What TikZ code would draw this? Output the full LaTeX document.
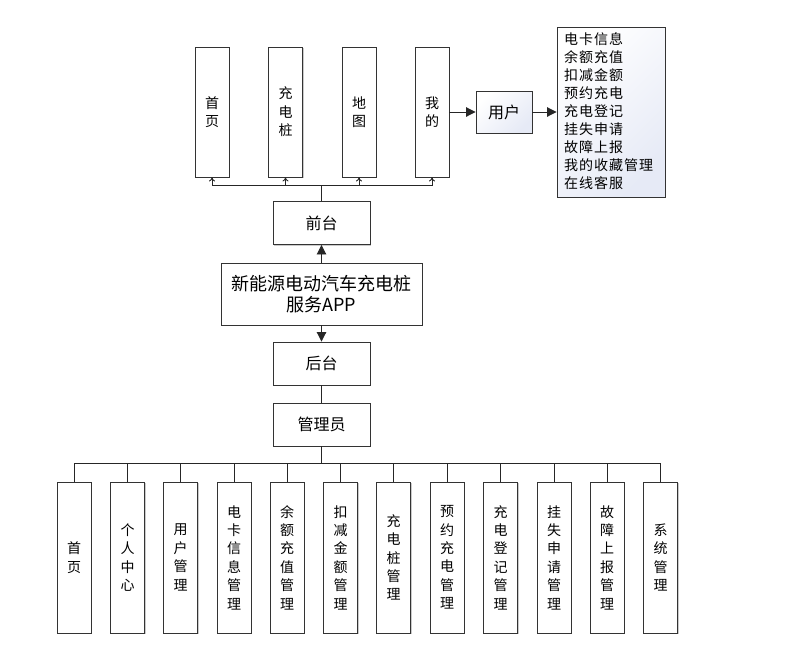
\documentclass[tikz,border=0pt]{standalone}
\usepackage{fontspec}
\setmainfont{Noto Sans CJK SC}
\newfontfamily\listfont[LetterSpace=7]{Noto Sans CJK SC}
\usetikzlibrary{arrows.meta,shadows}
\definecolor{lb}{RGB}{230,234,246}
\begin{document}
\begin{tikzpicture}[x=1pt,y=-1pt,
 box/.style={draw=black!80, line width=0.9pt, fill=white, inner sep=0pt, align=center,
   drop shadow={shadow xshift=1.3pt,shadow yshift=-1.3pt,fill=black!35,opacity=0.6}},
 grad/.style={top color=white, bottom color=lb, shading angle=45},
 vbox/.style={box, minimum width=34pt, minimum height=130pt, font=\fontsize{14}{18.5}\selectfont},
 bbox/.style={box, minimum width=34pt, minimum height=151pt, font=\fontsize{14}{18.4}\selectfont},
 hbox/.style={box, minimum width=97pt, minimum height=43pt, font=\fontsize{16}{20}\selectfont},
 conn/.style={line width=0.9pt, draw=black!85},
 big/.style={-{Triangle[length=9.5pt,width=9.5pt]}},
 small/.style={-{To[length=4pt,width=6pt]}}
]
\useasboundingbox (0,0) rectangle (803,646);
% top
\node[vbox] (t1) at (212,112) {首\\页};
\node[vbox] (t2) at (285.5,112) {充\\电\\桩};
\node[vbox] (t3) at (359,112) {地\\图};
\node[vbox] (t4) at (432,112) {我\\的};
\node[hbox, grad, minimum width=56pt, minimum height=42pt] (user) at (504,112) {用户};
\node[box, grad, minimum width=108pt, minimum height=170pt] (list) at (611,112) {};
\node[anchor=north west, align=left, inner sep=0pt, font=\listfont\fontsize{14}{18.1}\selectfont] (listtext) at (564,32) {电卡信息\\余额充值\\扣减金额\\预约充电\\充电登记\\挂失申请\\故障上报\\我的收藏管理\\在线客服};
% middle
\node[hbox] (qt) at (321.5,223) {前台};
\node[box, minimum width=201pt, minimum height=62pt, font=\fontsize{18}{21}\selectfont] (app) at (321.5,294) {新能源电动汽车充电桩\\服务APP};
\node[hbox] (ht) at (321.5,363.5) {后台};
\node[hbox] (admin) at (321.5,424.5) {管理员};
% bottom
\node[bbox] (b1) at (74,557.5) {首\\页};
\node[bbox] (b2) at (127.5,557.5) {个\\人\\中\\心};
\node[bbox] (b3) at (180.5,557.5) {用\\户\\管\\理};
\node[bbox] (b4) at (234,557.5) {电\\卡\\信\\息\\管\\理};
\node[bbox] (b5) at (287,557.5) {余\\额\\充\\值\\管\\理};
\node[bbox] (b6) at (340.5,557.5) {扣\\减\\金\\额\\管\\理};
\node[bbox] (b7) at (393.5,557.5) {充\\电\\桩\\管\\理};
\node[bbox] (b8) at (447,557.5) {预\\约\\充\\电\\管\\理};
\node[bbox] (b9) at (500.5,557.5) {充\\电\\登\\记\\管\\理};
\node[bbox] (b10) at (554,557.5) {挂\\失\\申\\请\\管\\理};
\node[bbox] (b11) at (607,557.5) {故\\障\\上\\报\\管\\理};
\node[bbox] (b12) at (660.5,557.5) {系\\统\\管\\理};
% connectors
\coordinate (tb) at (321.5,185);
\draw[conn] (qt.north) -- (tb);
\foreach \n in {t1,t2,t3,t4} \draw[conn,small] (tb) -| (\n.south);
\draw[conn,big] (t4.east) -- (user.west);
\draw[conn,big] (user.east) -- (list.west);
\draw[conn,big] (app.north) -- (qt.south);
\draw[conn,big] (app.south) -- (ht.north);
\draw[conn] (ht.south) -- (admin.north);
\coordinate (bb) at (321.5,463);
\draw[conn] (admin.south) -- (bb);
\foreach \i in {1,...,12} \draw[conn] (bb) -| (b\i.north);
\end{tikzpicture}
\end{document}
